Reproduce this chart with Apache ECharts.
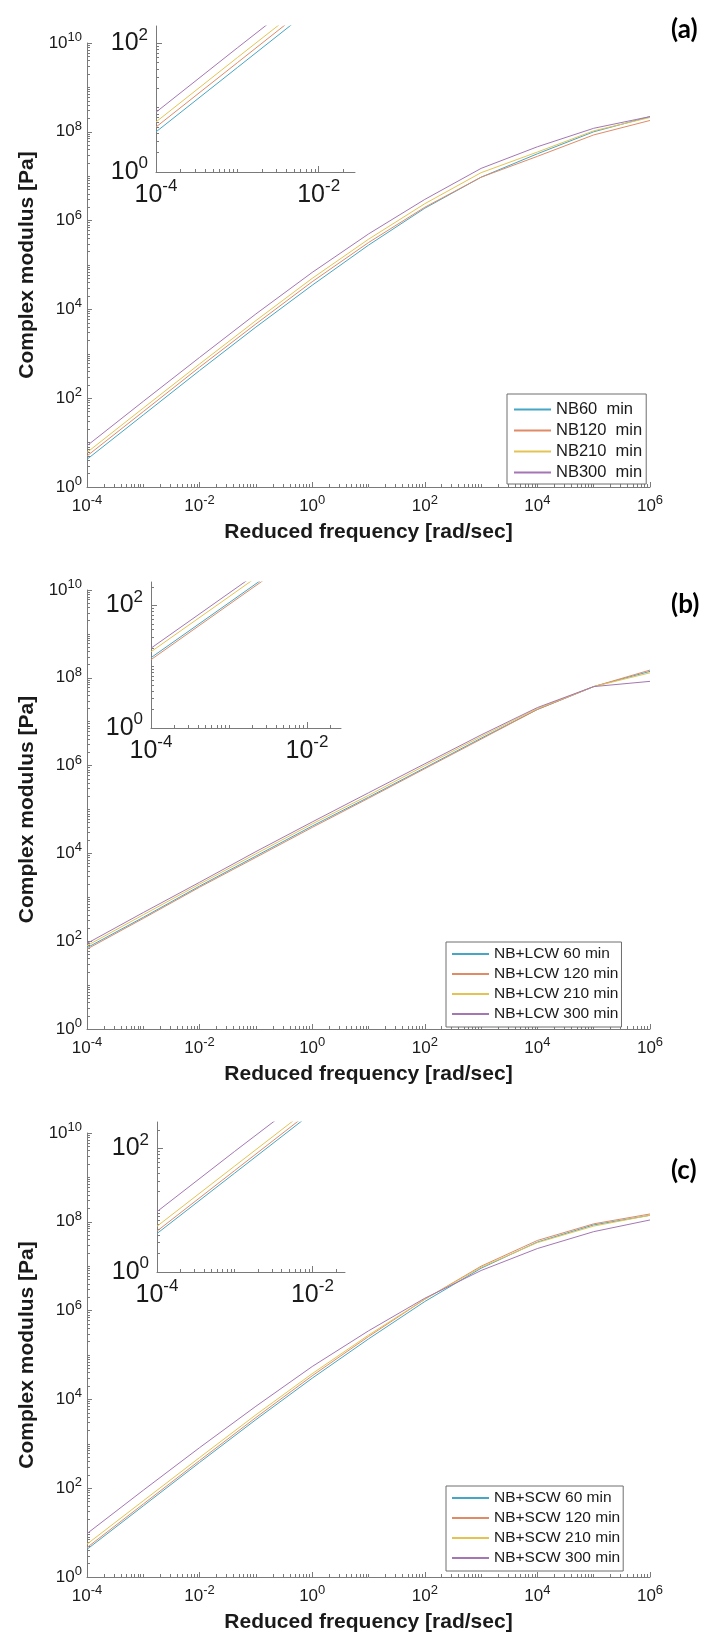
<!DOCTYPE html>
<html><head><meta charset="utf-8">
<script src="https://cdn.jsdelivr.net/npm/echarts@6/dist/echarts.min.js"></script>
<style>html,body{margin:0;padding:0;background:#fff}#c{width:710px;height:1641px}</style>
</head><body><div id="c"></div>
<script>
// ---------------- data ----------------
const freqs = [1e-4, 1e-3, 1e-2, 1e-1, 1, 10, 100, 1e3, 1e4, 1e5, 1e6];

// (a) NB
const namesA = ['NB60  min', 'NB120  min', 'NB210  min', 'NB300  min'];
const nb60  = [4.2, 42, 420, 4.0e3, 3.5e4, 2.8e5, 1.9e6, 9.5e6, 3.2e7, 1.0e8, 2.2e8];
const nb120 = [5.0, 50, 500, 4.7e3, 4.2e4, 3.2e5, 2.0e6, 9.5e6, 2.8e7, 8.5e7, 1.8e8];
const nb210 = [6.0, 60, 590, 5.6e3, 5.0e4, 3.8e5, 2.4e6, 1.2e7, 3.5e7, 1.05e8, 2.1e8];
const nb300 = [8.5, 85, 830, 7.9e3, 6.8e4, 5.0e5, 3.0e6, 1.5e7, 4.6e7, 1.2e8, 2.2e8];

// (b) NB+LCW, main plot
const namesB = ['NB+LCW 60 min', 'NB+LCW 120 min', 'NB+LCW 210 min', 'NB+LCW 300 min'];
const lcw60  = [71, 350, 1.8e3, 8.7e3, 4.2e4, 1.9e5, 8.9e5, 4.2e6, 1.9e7, 6.3e7, 1.4e8];
const lcw120 = [66, 330, 1.7e3, 8.1e3, 3.9e4, 1.8e5, 8.5e5, 4.0e6, 1.9e7, 6.3e7, 1.5e8];
const lcw210 = [79, 400, 2.0e3, 9.8e3, 4.7e4, 2.1e5, 1.0e6, 4.6e6, 2.0e7, 6.3e7, 1.3e8];
const lcw300 = [89, 450, 2.2e3, 1.1e4, 5.2e4, 2.4e5, 1.1e6, 5.0e6, 2.1e7, 6.3e7, 8.3e7];
// (b) inset, as drawn in the zoomed inset
const freqsInsetB = [1e-4, 1e-3, 1e-2];
const lcw60In  = [14, 110, 870];
const lcw120In = [13, 103, 810];
const lcw210In = [17.5, 138, 1100];
const lcw300In = [20, 158, 1250];

// (c) NB+SCW
const namesC = ['NB+SCW 60 min', 'NB+SCW 120 min', 'NB+SCW 210 min', 'NB+SCW 300 min'];
const scw60  = [4.2, 40, 380, 3.5e3, 3.0e4, 2.3e5, 1.6e6, 9.0e6, 3.5e7, 8.5e7, 1.4e8];
const scw120 = [4.6, 44, 420, 3.9e3, 3.4e4, 2.6e5, 1.8e6, 1.0e7, 3.8e7, 9.0e7, 1.5e8];
const scw210 = [5.5, 52, 490, 4.5e3, 3.8e4, 2.8e5, 1.8e6, 9.5e6, 3.4e7, 8.0e7, 1.4e8];
const scw300 = [9.5, 90, 820, 7.0e3, 5.5e4, 3.5e5, 1.9e6, 8.0e6, 2.5e7, 6.0e7, 1.1e8];

const panelLabels = ['(a)', '(b)', '(c)'];
const xTitle = 'Reduced frequency [rad/sec]';
const yTitle = 'Complex modulus [Pa]';
const mainXLabelExps = [-4, -2, 0, 2, 4, 6];
const mainYLabelExps = [0, 2, 4, 6, 8, 10];
const insetXLabelExps = [-4, -2];
const insetYLabelExps = [0, 2];

// ---------------- style ----------------
const COLORS = ['#45a6c6', '#e08a66', '#e5c352', '#a477b4'];
const FONT = "'Liberation Sans', Arial, Helvetica, sans-serif";
const AX = '#7a7a7a';
const TXT = '#1a1a1a';

const panels = [
  { names: namesA, series: [nb60, nb120, nb210, nb300], insetFreqs: freqs, insetSeries: [nb60, nb120, nb210, nb300],
    grid: { left: 87, top: 43, width: 563, height: 444 },
    inset: { left: 156, top: 26, width: 199, height: 146, xMax: 0.028, yMax: 186 },
    legend: { left: 507, top: 394, font: 16.5, pad: [7, 4, 3, 6] }, label: { left: 671, top: 17 } },
  { names: namesB, series: [lcw60, lcw120, lcw210, lcw300], insetFreqs: freqsInsetB, insetSeries: [lcw60In, lcw120In, lcw210In, lcw300In],
    grid: { left: 87, top: 590, width: 563, height: 439 },
    inset: { left: 151, top: 582, width: 190, height: 146, xMax: 0.0273, yMax: 240 },
    legend: { left: 446, top: 942, font: 15.5, pad: [4, 3, 5, 5] }, label: { left: 671, top: 592 } },
  { names: namesC, series: [scw60, scw120, scw210, scw300], insetFreqs: freqs, insetSeries: [scw60, scw120, scw210, scw300],
    grid: { left: 87, top: 1133, width: 563, height: 444 },
    inset: { left: 157, top: 1122, width: 188, height: 150, xMax: 0.0263, yMax: 269 },
    legend: { left: 446, top: 1486, font: 15.5, pad: [4, 3, 5, 5] }, label: { left: 671, top: 1158 } }
];

function pow10(e) { return Math.pow(10, e); }
function minorValues(lo, hi) {
  const out = [];
  for (let e = lo; e < hi; e++) for (let m = 1; m <= 9; m++) out.push(m * pow10(e));
  out.push(pow10(hi));
  return out;
}
function supFormatter(v) {
  const e = Math.round(Math.log10(v));
  return '{b|10}{s|' + e + '}';
}
function richFor(big) {
  return big
    ? { b: { fontSize: 25, fontFamily: FONT, color: TXT, lineHeight: 34 },
        s: { fontSize: 17, fontFamily: FONT, color: TXT, verticalAlign: 'top', lineHeight: 18 } }
    : { b: { fontSize: 17, fontFamily: FONT, color: TXT, lineHeight: 24 },
        s: { fontSize: 13, fontFamily: FONT, color: TXT, verticalAlign: 'top', lineHeight: 14 } };
}

const grids = [], xAxes = [], yAxes = [], series = [], legends = [], titles = [];

function addAxesPair(gridIndex, xMin, xMax, yMin, yMax, xLab, yLab, big, withNames) {
  const xi = xAxes.length, yi = yAxes.length;
  const xMajors = xLab.map(pow10), yMajors = yLab.map(pow10);
  const xLo = Math.round(Math.log10(xMin)), xHi = Math.ceil(Math.log10(xMax));
  const yLo = Math.round(Math.log10(yMin)), yHi = Math.ceil(Math.log10(yMax));
  const common = { gridIndex, type: 'log', logBase: 10, splitLine: { show: false }, minorTick: { show: false }, minorSplitLine: { show: false } };
  const nameStyle = { fontFamily: FONT, fontWeight: 'bold', fontSize: 21, color: TXT };
  xAxes.push(Object.assign({}, common, {
    position: 'bottom', min: xMin, max: xMax,
    axisLine: { show: true, lineStyle: { color: AX, width: 1 } },
    axisTick: { show: true, inside: true, length: big ? 6 : 5, customValues: xMajors, lineStyle: { color: AX } },
    axisLabel: { show: true, customValues: xMajors, formatter: supFormatter, rich: richFor(big), margin: big ? 6 : 7 },
    name: withNames ? xTitle : '', nameLocation: 'middle', nameGap: 35, nameTextStyle: nameStyle
  }));
  xAxes.push(Object.assign({}, common, {
    position: 'bottom', min: xMin, max: xMax,
    axisLine: { show: false },
    axisTick: { show: true, inside: true, length: 3, customValues: minorValues(xLo, xHi).filter(v => v <= xMax), lineStyle: { color: AX } },
    axisLabel: { show: false }
  }));
  yAxes.push(Object.assign({}, common, {
    position: 'left', min: yMin, max: yMax,
    axisLine: { show: true, lineStyle: { color: AX, width: 1 } },
    axisTick: { show: true, inside: true, length: big ? 6 : 5, customValues: yMajors, lineStyle: { color: AX } },
    axisLabel: { show: true, customValues: yMajors, formatter: supFormatter, rich: richFor(big), margin: big ? 8 : 5 },
    name: withNames ? yTitle : '', nameLocation: 'middle', nameGap: 48, nameTextStyle: nameStyle
  }));
  yAxes.push(Object.assign({}, common, {
    position: 'left', min: yMin, max: yMax,
    axisLine: { show: false },
    axisTick: { show: true, inside: true, length: 3, customValues: minorValues(yLo, yHi).filter(v => v <= yMax), lineStyle: { color: AX } },
    axisLabel: { show: false }
  }));
  return { xi, yi };
}

function lineSeries(name, ax, xs, ys, color) {
  return {
    type: 'line', name, xAxisIndex: ax.xi, yAxisIndex: ax.yi,
    data: xs.map((f, i) => [f, ys[i]]), symbol: 'none', clip: true, silent: true, animation: false,
    lineStyle: { width: 1, color }, itemStyle: { color }
  };
}

panels.forEach((p, pi) => {
  const gMain = grids.length;
  grids.push(Object.assign({ containLabel: false }, p.grid));
  const m = addAxesPair(gMain, 1e-4, 1e6, 1, 1e10, mainXLabelExps, mainYLabelExps, false, true);
  const gIn = grids.length;
  grids.push({ left: p.inset.left, top: p.inset.top, width: p.inset.width, height: p.inset.height, containLabel: false });
  const ins = addAxesPair(gIn, 1e-4, p.inset.xMax, 1, p.inset.yMax, insetXLabelExps, insetYLabelExps, true, false);

  p.series.forEach((vals, si) => {
    series.push(lineSeries(p.names[si], m, freqs, vals, COLORS[si]));
    series.push(lineSeries(p.names[si], ins, p.insetFreqs, p.insetSeries[si], COLORS[si]));
  });

  legends.push({
    orient: 'vertical', left: p.legend.left, top: p.legend.top, data: p.names,
    itemWidth: 37, itemHeight: 14, itemGap: 4, padding: p.legend.pad,
    borderColor: '#6e6e6e', borderWidth: 1, backgroundColor: '#ffffff', selectedMode: false,
    itemStyle: { opacity: 0 },
    textStyle: { fontSize: p.legend.font, fontFamily: FONT, color: TXT }
  });
  titles.push({
    text: panelLabels[pi], left: p.label.left, top: p.label.top, padding: 0,
    textStyle: { fontFamily: "Lato, 'Open Sans', sans-serif", fontWeight: 'bold', fontSize: 26, color: '#000' }
  });
});

const chart = echarts.init(document.getElementById('c'), null, { renderer: 'canvas' });
chart.setOption({
  backgroundColor: '#ffffff', animation: false,
  title: titles, grid: grids, xAxis: xAxes, yAxis: yAxes, legend: legends, series
});
</script></body></html>
